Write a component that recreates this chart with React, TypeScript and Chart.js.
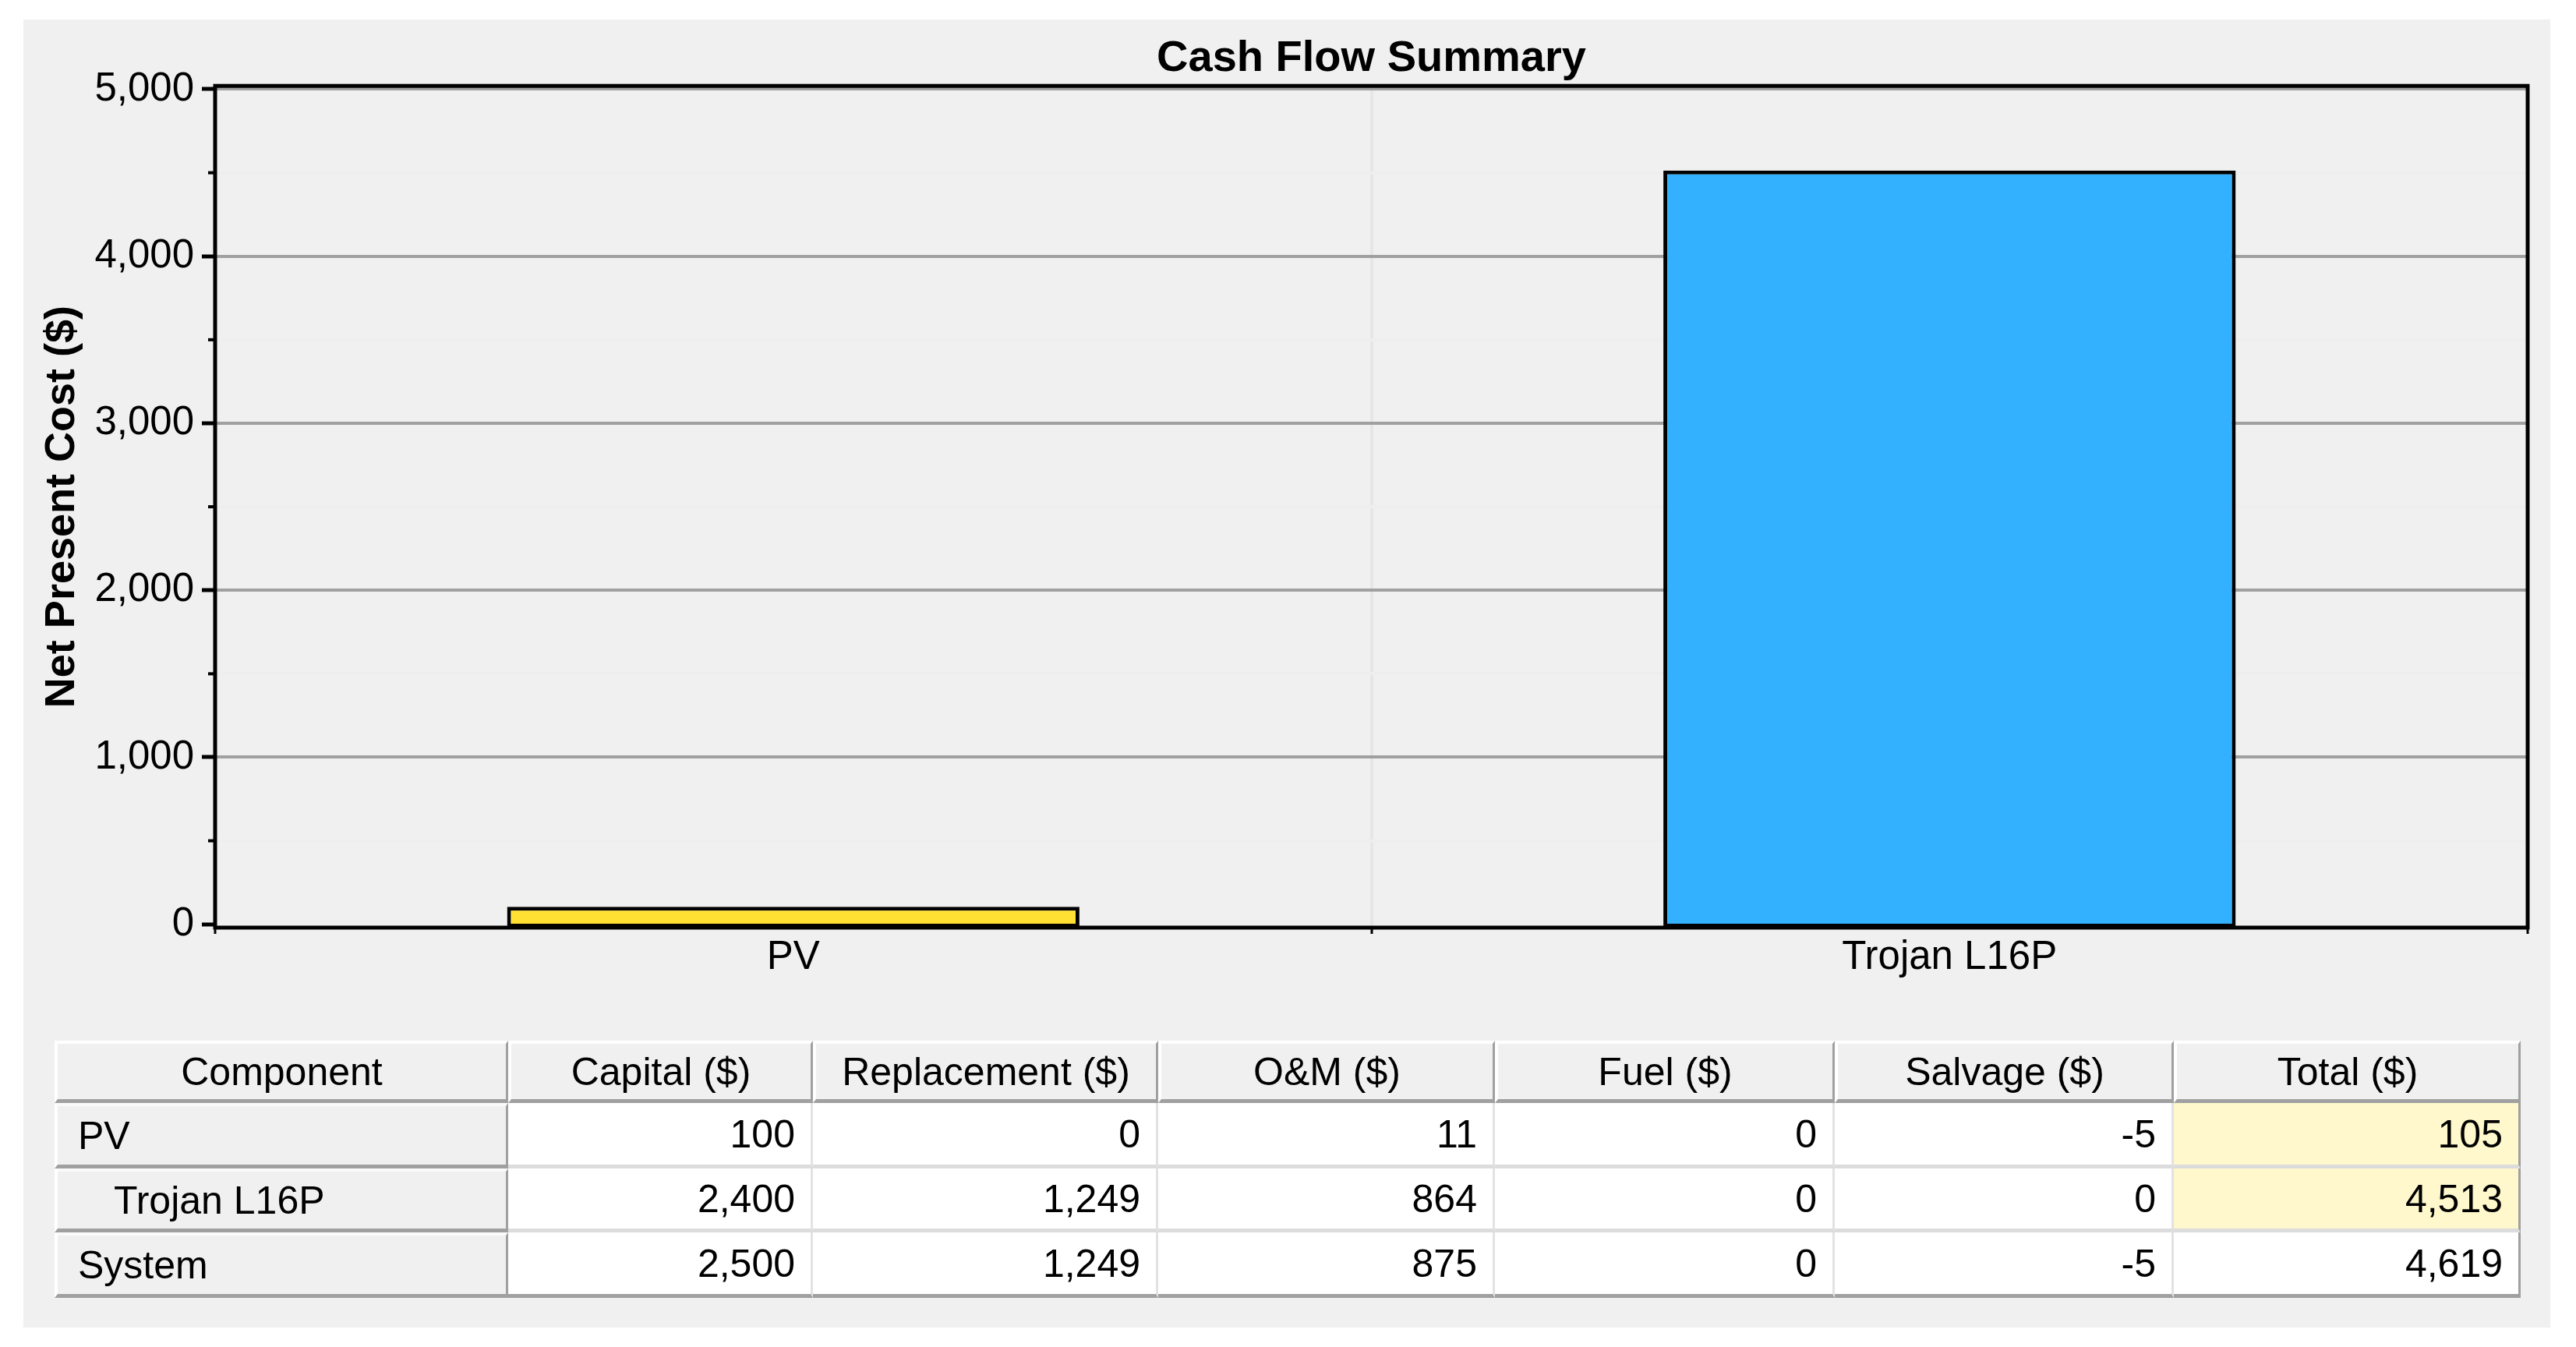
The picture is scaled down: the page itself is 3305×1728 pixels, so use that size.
import React, { useEffect, useRef } from 'react';
import { Chart, registerables } from 'chart.js';

Chart.register(...registerables);

// ---------- data ----------
const categories = ['PV', 'Trojan L16P'];
const netPresentCost = [105, 4513];
const barColors = ['#FFE033', '#33B1FF'];

const yMin = -20;
const yMax = 5020;
const yMajorTicks = [0, 1000, 2000, 3000, 4000, 5000];
const yMajorLabels = ['0', '1,000', '2,000', '3,000', '4,000', '5,000'];
const yMinorTicks = [500, 1500, 2500, 3500, 4500];

const chartTitle = 'Cash Flow Summary';
const yAxisTitle = 'Net Present Cost ($)';

const tableHeaders = ['Component', 'Capital ($)', 'Replacement ($)', 'O&M ($)', 'Fuel ($)', 'Salvage ($)', 'Total ($)'];
const rowLabels = ['PV', 'Trojan L16P', 'System'];
const capitalCol = ['100', '2,400', '2,500'];
const replacementCol = ['0', '1,249', '1,249'];
const omCol = ['11', '864', '875'];
const fuelCol = ['0', '0', '0'];
const salvageCol = ['-5', '0', '-5'];
const totalCol = ['105', '4,513', '4,619'];

// ---------- layout / style ----------
const FONT = "'Liberation Sans', Arial, sans-serif";
const PANEL = { left: 30, top: 25, width: 3242, height: 1678 };
const CANVAS_H = 1290;
const colWidths = [582, 391, 443, 432, 436, 435, 445];
const rowHeights = [80, 84, 82, 84];

const framePlugin = {
  id: 'frameAndMinorTicks',
  afterDatasetsDraw(chart: any) {
    const { ctx, chartArea: a, scales } = chart;
    const y = scales.y;
    ctx.save();
    ctx.strokeStyle = '#000';
    ctx.lineWidth = 4;
    yMinorTicks.forEach((v) => {
      const py = y.getPixelForValue(v);
      ctx.beginPath();
      ctx.moveTo(a.left - 9, py);
      ctx.lineTo(a.left, py);
      ctx.stroke();
    });
    ctx.lineWidth = 5;
    ctx.strokeRect(a.left, a.top, a.right - a.left, a.bottom - a.top);
    ctx.restore();
  },
};

function CashFlowChart() {
  const ref = useRef<HTMLCanvasElement | null>(null);
  useEffect(() => {
    if (!ref.current) return;
    const allTicks = [...yMajorTicks, ...yMinorTicks].sort((a, b) => a - b);
    const chart = new Chart(ref.current, {
      type: 'bar',
      data: {
        labels: categories,
        datasets: [
          {
            data: netPresentCost,
            backgroundColor: barColors,
            borderColor: '#000',
            borderWidth: 5,
            borderSkipped: false,
            barPercentage: 0.495,
            categoryPercentage: 1,
            base: yMin,
          },
        ],
      },
      options: {
        animation: false,
        responsive: false,
        devicePixelRatio: 1,
        layout: { padding: { left: 0, right: 29, top: 0, bottom: 0 } },
        plugins: {
          legend: { display: false },
          tooltip: { enabled: false },
          title: {
            display: true,
            text: chartTitle,
            fullSize: false,
            color: '#000',
            font: { family: FONT, size: 56, weight: 'bold' },
            padding: { top: 17, bottom: 1 },
          },
        },
        scales: {
          x: {
            offset: true,
            grid: {
              offset: true,
              color: '#e6e6e6',
              lineWidth: 4,
              tickLength: 8,
              tickColor: '#000',
              tickWidth: 3,
            },
            border: { display: false },
            ticks: { color: '#000', font: { family: FONT, size: 51 }, padding: 0 },
            afterFit: (axis: any) => {
              axis.height = 125;
            },
          },
          y: {
            min: yMin,
            max: yMax,
            afterBuildTicks: (axis: any) => {
              axis.ticks = allTicks.map((v) => ({ value: v }));
            },
            afterFit: (axis: any) => {
              axis.width = 246;
            },
            grid: {
              lineWidth: 4,
              tickLength: 17,
              tickWidth: 5,
              color: (c: any) => {
                const v = c.tick ? c.tick.value : null;
                if (v === 0) return 'rgba(0,0,0,0)';
                return yMajorTicks.includes(v) ? '#a0a0a0' : '#eeeeee';
              },
              tickColor: (c: any) => {
                const v = c.tick ? c.tick.value : null;
                return yMajorTicks.includes(v) ? '#000' : 'rgba(0,0,0,0)';
              },
            },
            border: { display: false },
            ticks: {
              autoSkip: false,
              color: '#000',
              padding: 10,
              font: { family: FONT, size: 51 },
              callback: (value: any) => {
                const i = yMajorTicks.indexOf(Number(value));
                return i >= 0 ? yMajorLabels[i] : '';
              },
            },
            title: {
              display: true,
              text: yAxisTitle,
              color: '#000',
              font: { family: FONT, size: 54, weight: 'bold' },
              padding: { top: 18, bottom: 0 },
            },
          },
        },
      },
      plugins: [framePlugin],
    } as any);
    return () => chart.destroy();
  }, []);
  return (
    <canvas
      ref={ref}
      width={PANEL.width}
      height={CANVAS_H}
      style={{ position: 'absolute', left: 0, top: 0, width: PANEL.width, height: CANVAS_H }}
    />
  );
}

function SummaryTable() {
  const dataCols = [capitalCol, replacementCol, omCol, fuelCol, salvageCol, totalCol];
  const cells: React.ReactNode[] = [];
  const base: React.CSSProperties = {
    boxSizing: 'border-box',
    display: 'flex',
    alignItems: 'center',
    fontFamily: FONT,
    fontSize: 50,
    color: '#000',
    whiteSpace: 'nowrap',
    overflow: 'hidden',
  };
  tableHeaders.forEach((h, c) => {
    cells.push(
      <div
        key={'h' + c}
        style={{
          ...base,
          justifyContent: 'center',
          background: '#f0f0f0',
          borderTop: '4px solid #ffffff',
          borderLeft: '4px solid #ffffff',
          borderRight: '3px solid #a0a0a0',
          borderBottom: '5px solid #a0a0a0',
        }}
      >
        {h}
      </div>
    );
  });
  rowLabels.forEach((label, r) => {
    const last = r === rowLabels.length - 1;
    cells.push(
      <div
        key={'l' + r}
        style={{
          ...base,
          justifyContent: 'flex-start',
          paddingLeft: r === 1 ? 72 : 26,
          background: '#f0f0f0',
          borderTop: '4px solid #fafafa',
          borderLeft: '4px solid #ffffff',
          borderRight: '3px solid #a0a0a0',
          borderBottom: '5px solid #a0a0a0',
        }}
      >
        {label}
      </div>
    );
    dataCols.forEach((col, c) => {
      const isTotal = c === dataCols.length - 1;
      cells.push(
        <div
          key={'d' + r + '_' + c}
          style={{
            ...base,
            justifyContent: 'flex-end',
            paddingRight: 20,
            background: isTotal && r < 2 ? '#FFF8CC' : '#ffffff',
            borderRight: isTotal ? '3px solid #a0a0a0' : '3px solid #e2e2e2',
            borderBottom: last ? '5px solid #a0a0a0' : '5px solid #dcdcdc',
          }}
        >
          {col[r]}
        </div>
      );
    });
  });
  return (
    <div
      style={{
        position: 'absolute',
        left: 70 - PANEL.left,
        top: 1335 - PANEL.top,
        display: 'grid',
        gridTemplateColumns: colWidths.map((w) => w + 'px').join(' '),
        gridTemplateRows: rowHeights.map((h) => h + 'px').join(' '),
      }}
    >
      {cells}
    </div>
  );
}

export default function App() {
  return (
    <div
      style={{
        position: 'absolute',
        left: 0,
        top: 0,
        width: 3305,
        height: 1728,
        background: '#ffffff',
        overflow: 'hidden',
      }}
    >
      <div
        style={{
          position: 'absolute',
          left: PANEL.left,
          top: PANEL.top,
          width: PANEL.width,
          height: PANEL.height,
          background: '#f0f0f0',
        }}
      >
        <CashFlowChart />
        <SummaryTable />
      </div>
    </div>
  );
}
